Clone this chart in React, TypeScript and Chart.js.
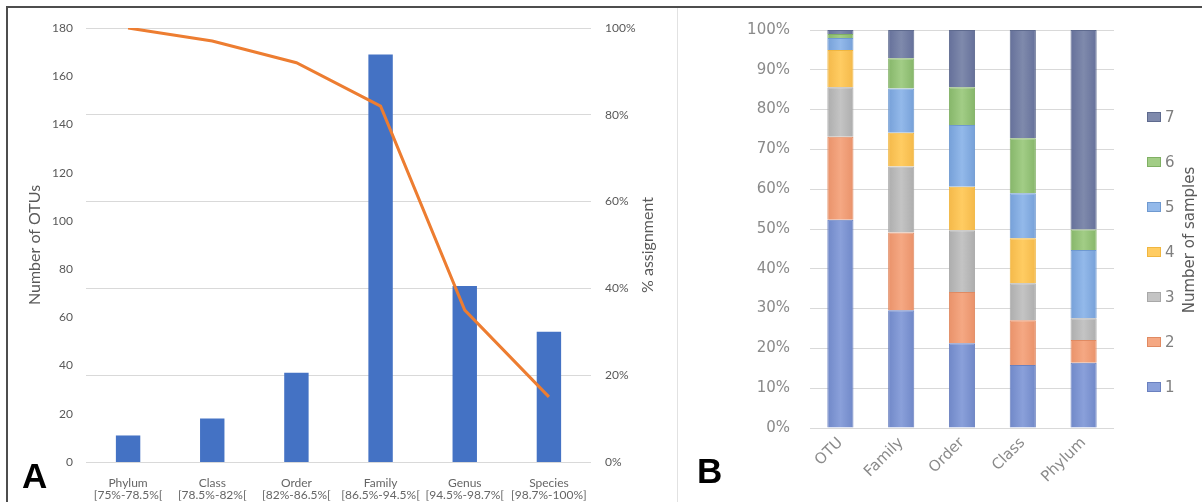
import React, { useEffect, useRef } from "react";
import { Chart, registerables } from "chart.js";

Chart.register(...registerables);

// ---------- Panel A data ----------
const rankNames = ["Phylum", "Class", "Order", "Family", "Genus", "Species"];
const rankIntervals = ["[75%-78.5%[", "[78.5%-82%[", "[82%-86.5%[", "[86.5%-94.5%[", "[94.5%-98.7%[", "[98.7%-100%]"];
const otuCounts = [11, 18, 37, 169, 73, 54];
const assignmentPct = [100, 97, 92, 82, 35, 15];

// ---------- Panel B data ----------
const levelNames = ["OTU", "Family", "Order", "Class", "Phylum"];
const sampleLabels = ["1", "2", "3", "4", "5", "6", "7"];
const share1 = [52.3, 29.6, 21.3, 15.8, 16.4];
const share2 = [20.9, 19.5, 12.9, 11.3, 5.7];
const share3 = [12.4, 16.6, 15.5, 9.3, 5.5];
const share4 = [9.4, 8.5, 10.9, 11.3, 0];
const share5 = [3.0, 11.1, 15.5, 11.3, 17.1];
const share6 = [1.0, 7.6, 9.5, 13.8, 5.2];
const share7 = [1.0, 7.1, 14.4, 27.2, 50.1];
const sampleShares = [share1, share2, share3, share4, share5, share6, share7];
const sampleColors = ["#8AA0DA", "#F5A883", "#C4C4C4", "#FFCC62", "#93B9EA", "#A2CD86", "#7F8AAC"];
const sampleEdges = ["#7088C8", "#E9926A", "#ADADAD", "#F4B94A", "#76A0D8", "#86B66A", "#65709A"];
const sampleBorders = ["#6A80BF", "#E08A62", "#A8A8A8", "#F0B640", "#6F99D0", "#80B064", "#5E6A8E"];

const FONT_A = "Lato, 'Open Sans', sans-serif";
const FONT_B = "'DejaVu Sans', Verdana, sans-serif";

const BAR_PCT_B = 0.43;

const panelATextPlugin = {
  id: "panelAText",
  afterDraw(chart: any) {
    const ctx = chart.ctx;
    const ca = chart.chartArea;
    const cy = (ca.top + ca.bottom) / 2;
    ctx.save();
    ctx.fillStyle = "#595959";
    ctx.font = `16px ${FONT_A}`;
    ctx.textAlign = "center";
    ctx.textBaseline = "middle";
    ctx.translate(ca.left - 51, cy);
    ctx.rotate(-Math.PI / 2);
    ctx.fillText("Number of OTUs", 0, 0);
    ctx.restore();
    ctx.save();
    ctx.fillStyle = "#595959";
    ctx.font = `16px ${FONT_A}`;
    ctx.textAlign = "center";
    ctx.textBaseline = "middle";
    ctx.translate(ca.right + 57, cy);
    ctx.rotate(-Math.PI / 2);
    ctx.fillText("% assignment", 0, 0);
    ctx.restore();
    ctx.save();
    ctx.fillStyle = "#000";
    ctx.font = "bold 35px 'Liberation Sans', Arial, sans-serif";
    ctx.textAlign = "left";
    ctx.textBaseline = "alphabetic";
    ctx.fillText("A", 14, 480);
    ctx.restore();
  },
};

const panelBTextPlugin = {
  id: "panelBText",
  afterDraw(chart: any) {
    const ctx = chart.ctx;
    const ca = chart.chartArea;
    const ds = chart.data.datasets;
    ctx.save();
    ctx.font = `15px ${FONT_B}`;
    ctx.textBaseline = "middle";
    ctx.textAlign = "left";
    const x0 = ca.right + 33;
    const y0 = 109;
    const step = 45;
    for (let k = 0; k < ds.length; k++) {
      const idx = ds.length - 1 - k;
      const d = ds[idx];
      const y = y0 + k * step;
      ctx.fillStyle = sampleColors[idx];
      ctx.fillRect(x0, y - 5, 14, 10);
      ctx.strokeStyle = sampleBorders[idx];
      ctx.lineWidth = 1;
      ctx.strokeRect(x0 + 0.5, y - 4.5, 13, 9);
      ctx.fillStyle = "#7f7f7f";
      ctx.fillText(d.label, x0 + 18, y + 1);
    }
    ctx.restore();
    ctx.save();
    ctx.fillStyle = "#595959";
    ctx.font = `15px ${FONT_B}`;
    ctx.textAlign = "center";
    ctx.textBaseline = "middle";
    ctx.translate(ca.right + 76, 232);
    ctx.rotate(-Math.PI / 2);
    ctx.fillText("Number of samples", 0, 0);
    ctx.restore();
    ctx.save();
    ctx.fillStyle = "#000";
    ctx.font = "bold 35px 'Liberation Sans', Arial, sans-serif";
    ctx.textAlign = "left";
    ctx.textBaseline = "alphabetic";
    ctx.fillText("B", 14, 475);
    ctx.restore();
  },
};

function PanelA() {
  const ref = useRef<HTMLCanvasElement | null>(null);
  useEffect(() => {
    if (!ref.current) return;
    const labels = rankNames.map((n, i) => [n, rankIntervals[i]]);
    const chart = new Chart(ref.current, {
      type: "bar",
      data: {
        labels,
        datasets: [
          {
            type: "line",
            label: "% assignment",
            data: assignmentPct,
            yAxisID: "y1",
            borderColor: "#ED7D31",
            backgroundColor: "#ED7D31",
            borderWidth: 3,
            pointRadius: 0,
            tension: 0,
            order: 0,
          } as any,
          {
            type: "bar",
            label: "Number of OTUs",
            data: otuCounts,
            yAxisID: "y",
            backgroundColor: "#4472C4",
            barPercentage: 0.29,
            categoryPercentage: 1,
            order: 1,
          },
        ],
      },
      options: {
        responsive: false,
        animation: false,
        layout: { padding: { top: 20, left: 0, right: 0, bottom: 0 } },
        plugins: { legend: { display: false }, tooltip: { enabled: false } },
        scales: {
          x: {
            grid: { display: false, drawTicks: false },
            border: { display: false },
            ticks: {
              autoSkip: false,
              maxRotation: 0,
              minRotation: 0,
              padding: 15,
              color: "#666666",
              font: { family: FONT_A, size: 12, lineHeight: 1.0 },
            },
            afterFit: (s: any) => { s.height = 40; },
          },
          y: {
            position: "left",
            min: 0,
            max: 180,
            grid: { display: false, drawTicks: false },
            border: { display: false },
            ticks: { stepSize: 20, padding: 13, color: "#595959", font: { family: FONT_A, size: 12 } },
            afterFit: (s: any) => { s.width = 78; s.paddingTop = 0; s.paddingBottom = 0; },
          },
          y1: {
            position: "right",
            min: 0,
            max: 100,
            grid: { display: true, drawOnChartArea: true, drawTicks: false, color: "#D9D9D9", lineWidth: 1 },
            border: { display: false },
            ticks: {
              stepSize: 20,
              padding: 14,
              color: "#595959",
              font: { family: FONT_A, size: 12 },
              callback: (v: any) => `${v}%`,
            },
            afterFit: (s: any) => { s.width = 86; s.paddingTop = 0; s.paddingBottom = 0; },
          },
        },
      },
      plugins: [panelATextPlugin],
    });
    return () => chart.destroy();
  }, []);
  return <canvas ref={ref} width={669} height={494} style={{ display: "block" }} />;
}

function barGradient(i: number) {
  return (c: any) => {
    const chart = c.chart;
    const xs = chart.scales?.x;
    if (!xs || c.dataIndex === undefined) return sampleColors[i];
    const cx = xs.getPixelForValue(c.dataIndex);
    const n = chart.data.labels.length;
    const half = (xs.width / n) * BAR_PCT_B / 2;
    if (!isFinite(cx) || !isFinite(half) || half <= 0) return sampleColors[i];
    const g = chart.ctx.createLinearGradient(cx - half, 0, cx + half, 0);
    g.addColorStop(0, sampleEdges[i]);
    g.addColorStop(0.5, sampleColors[i]);
    g.addColorStop(1, sampleEdges[i]);
    return g;
  };
}

function PanelB() {
  const ref = useRef<HTMLCanvasElement | null>(null);
  useEffect(() => {
    if (!ref.current) return;
    const chart = new Chart(ref.current, {
      type: "bar",
      data: {
        labels: levelNames,
        datasets: sampleShares.map((arr, i) => ({
          label: sampleLabels[i],
          data: arr,
          backgroundColor: barGradient(i),
          borderColor: sampleBorders[i],
          borderWidth: 1,
          barPercentage: BAR_PCT_B,
          categoryPercentage: 1,
        })),
      },
      options: {
        responsive: false,
        animation: false,
        layout: { padding: { top: 22, right: 88, left: 0, bottom: 0 } },
        plugins: { legend: { display: false }, tooltip: { enabled: false } },
        scales: {
          x: {
            stacked: true,
            grid: { display: false, drawTicks: false },
            border: { display: false },
            ticks: {
              autoSkip: false,
              maxRotation: 45,
              minRotation: 45,
              padding: 6,
              color: "#8a8a8a",
              font: { family: FONT_B, size: 15 },
            },
            afterFit: (s: any) => { s.height = 74; },
          },
          y: {
            stacked: true,
            min: 0,
            max: 100,
            grid: { color: "#D9D9D9", drawTicks: false, lineWidth: 1 },
            border: { display: false },
            ticks: {
              stepSize: 10,
              padding: 20,
              color: "#8a8a8a",
              font: { family: FONT_B, size: 15 },
              callback: (v: any) => `${v}%`,
            },
            afterFit: (s: any) => { s.width = 127; s.paddingTop = 0; s.paddingBottom = 0; },
          },
        },
      },
      plugins: [panelBTextPlugin],
    });
    return () => chart.destroy();
  }, []);
  return <canvas ref={ref} width={519} height={494} style={{ display: "block" }} />;
}

export default function App() {
  return (
    <div style={{ position: "fixed", left: 0, top: 0, width: 1202, height: 502, background: "#fff", overflow: "hidden" }}>
      <div style={{ position: "absolute", left: 8, top: 8 }}>
        <PanelA />
      </div>
      <div style={{ position: "absolute", left: 683, top: 8 }}>
        <PanelB />
      </div>
      <div style={{ position: "absolute", left: 6, top: 6, width: 1196, height: 2, background: "#4d4d4d" }} />
      <div style={{ position: "absolute", left: 6, top: 6, width: 2, height: 496, background: "#4d4d4d" }} />
      <div style={{ position: "absolute", left: 677, top: 8, width: 1, height: 494, background: "#e2e2e2" }} />
    </div>
  );
}
